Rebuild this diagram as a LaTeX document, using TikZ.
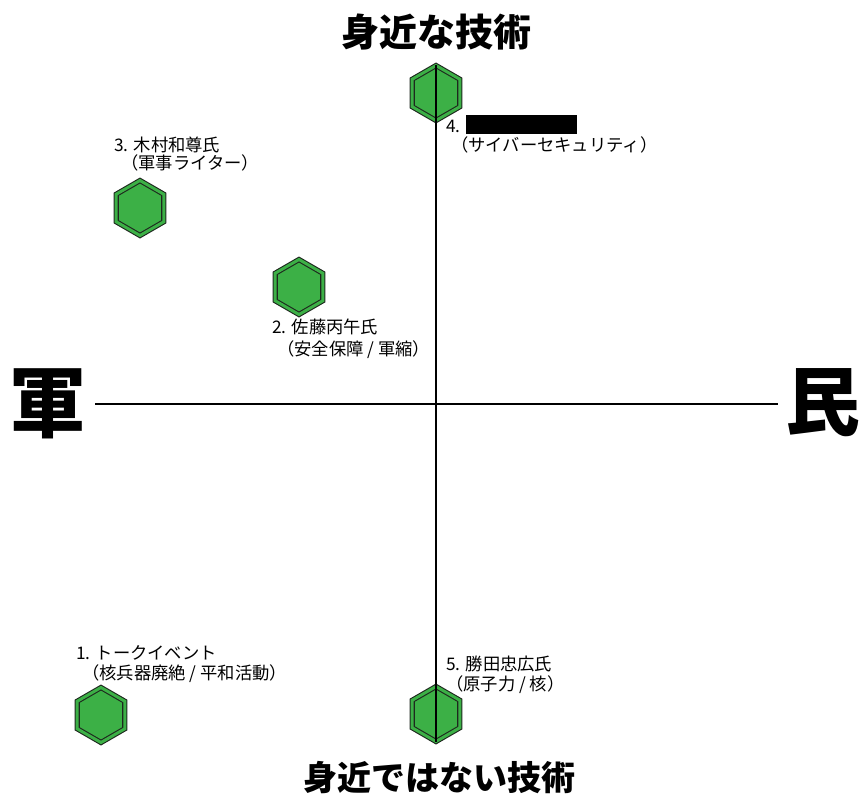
\documentclass[tikz,border=0pt]{standalone}
\usepackage{fontspec}
\newfontfamily\cjk{Noto Sans CJK JP}
\usetikzlibrary{shapes.geometric}
\definecolor{hexgreen}{RGB}{60,176,70}
\definecolor{hexline}{RGB}{30,40,30}
\begin{document}
\begin{tikzpicture}[x=1pt,y=-1pt,
  hexa/.style={regular polygon, regular polygon sides=6, shape border rotate=30,
    minimum size=55pt, inner sep=0pt, fill=hexgreen, draw=hexline,
    line width=1.1pt, double=hexgreen, double distance=3pt},
  lbl/.style={anchor=west, inner sep=0pt, font=\cjk\fontsize{17.3}{19}\selectfont},
  axis/.style={line width=1.3pt, black},
  big/.style={inner sep=0pt, font=\cjk\bfseries\fontsize{#1}{#1}\selectfont}]
\useasboundingbox (0,0) rectangle (861,798);
% titles
\node[big=38] (ttop) at (436,32) {身近な技術};
\node[big=34] (tbot) at (439,778) {身近ではない技術};
\node[big=77] (tleft) at (48,404) {軍};
\node[big=75] (tright) at (823,403) {民};
% hexagons
\node[hexa] (h1) at (101,715) {};
\node[hexa] (h2) at (299,287) {};
\node[hexa] (h3) at (140,208) {};
\node[hexa] (h4) at (436,93) {};
\node[hexa] (h5) at (436,714) {};
% axes
\coordinate (axL) at (95,404);
\coordinate (axR) at (778,404);
\draw[axis] (axL) -- (axR);
\draw[axis] (h4.north) -- (h5.south);
% labels
\node[lbl] (l3a) at (114,145) {3. 木村和尊氏};
\node[lbl] (l3b) at (121,163) {（軍事ライター）};
\node[lbl] (l4a) at (446,126) {4.};
\node[fill=black, minimum width=111pt, minimum height=19pt, inner sep=0pt, anchor=north west] (redact) at (466,115) {};
\node[lbl] (l4b) at (451,145) {（サイバーセキュリティ）};
\node[lbl] (l2a) at (272,327) {2. 佐藤丙午氏};
\node[lbl] (l2b) at (277,350) {（安全保障 / 軍縮）};
\node[lbl] (l1a) at (76,653) {1. トークイベント};
\node[lbl] (l1b) at (82,674) {（核兵器廃絶 / 平和活動）};
\node[lbl] (l5a) at (446,664) {5. 勝田忠広氏};
\node[lbl] (l5b) at (446,685) {（原子力 / 核）};
\end{tikzpicture}
\end{document}
